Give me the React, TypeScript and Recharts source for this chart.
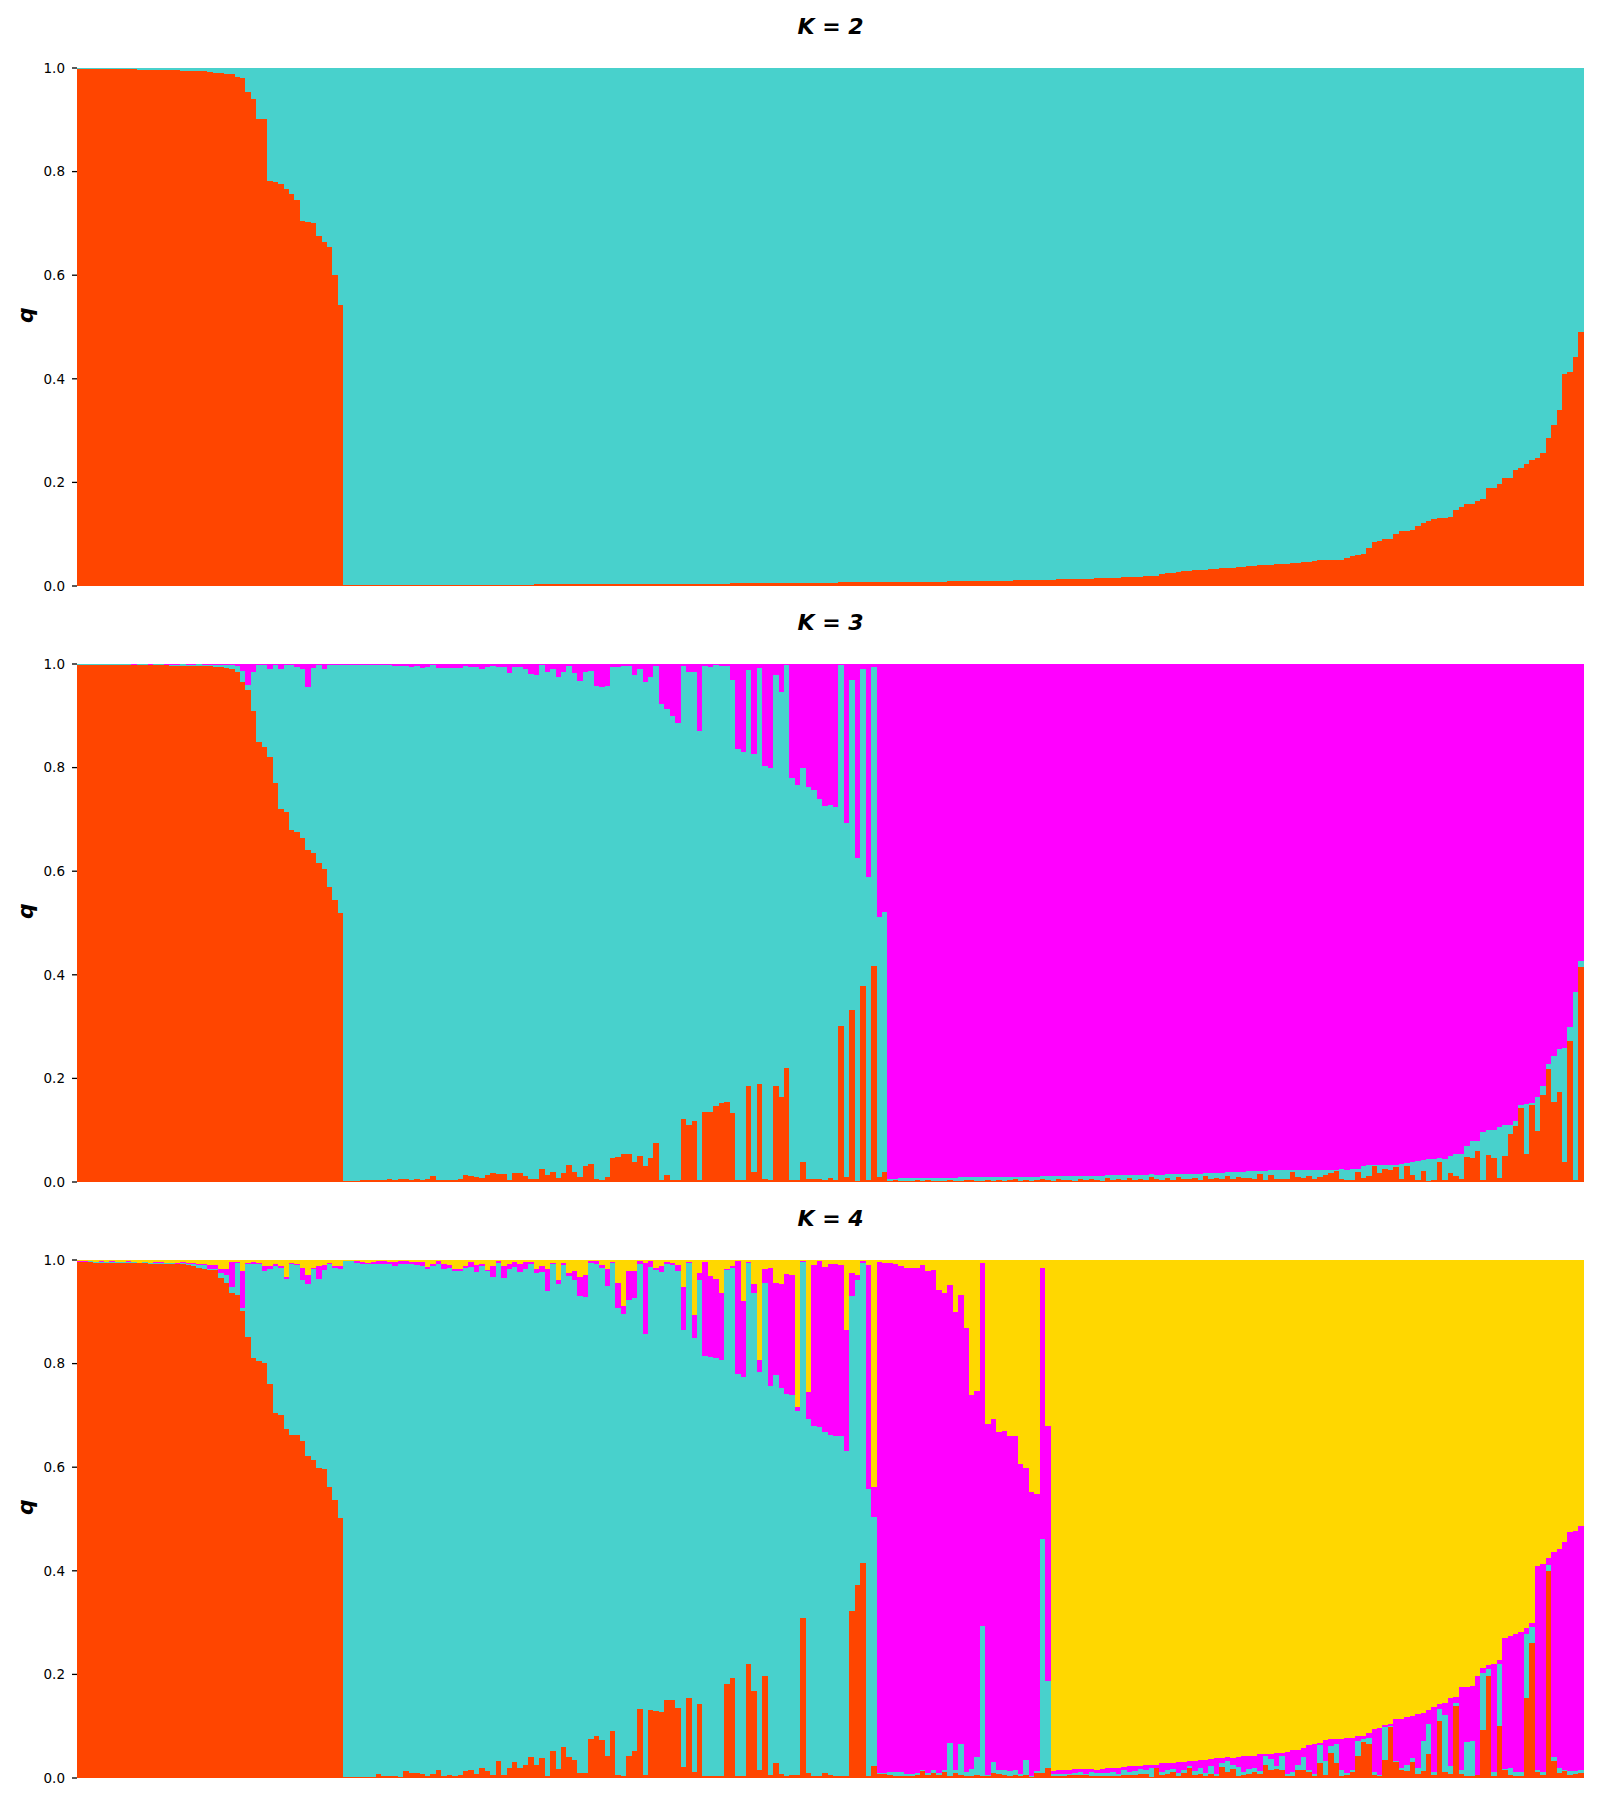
import React from 'react';
import { BarChart, Bar, XAxis, YAxis } from 'recharts';

// Cluster colours (orangered, mediumturquoise, magenta, gold)
const COLORS = ['#FF4500', '#48D1CC', '#FF00FF', '#FFD700'];
const KEYS = ['red', 'teal', 'magenta', 'yellow'];
const Q_TICKS = [0, 0.2, 0.4, 0.6, 0.8, 1.0];
const TITLES = ['K = 2', 'K = 3', 'K = 4'];

// ---------- K = 2 : red membership (teal is the rest) ----------
const k2RedBlock = [
  0.999, 0.999, 0.999, 0.999, 0.999, 0.999, 0.999, 0.999, 0.999, 0.999, 0.999,
  0.997, 0.997, 0.997, 0.997, 0.997, 0.997, 0.997, 0.997,
  0.995, 0.995, 0.995, 0.995, 0.995, 0.993, 0.991, 0.991, 0.989, 0.989,
  0.983, 0.981, 0.953, 0.941, 0.901, 0.901, 0.782, 0.78, 0.776, 0.766, 0.756,
  0.745, 0.705, 0.703, 0.7, 0.676, 0.665, 0.655, 0.6, 0.543,
];
const k2RedMid = [
  0.001, 0.001, 0.001, 0.001, 0.001, 0.001, 0.001, 0.001, 0.001, 0.001,
  0.001, 0.001, 0.001, 0.001, 0.001, 0.002, 0.002, 0.002, 0.002, 0.002,
  0.002, 0.002, 0.002, 0.002, 0.002, 0.002, 0.002, 0.002, 0.002, 0.002,
  0.002, 0.002, 0.002, 0.002, 0.002, 0.003, 0.003, 0.003, 0.003, 0.003,
  0.003, 0.003, 0.003, 0.003, 0.003, 0.003, 0.003, 0.003, 0.003, 0.003,
  0.003, 0.003, 0.003, 0.004, 0.004, 0.004, 0.004, 0.004, 0.004, 0.004,
  0.004, 0.004, 0.004, 0.004, 0.004, 0.004, 0.004, 0.004, 0.004, 0.004,
  0.004, 0.005, 0.005, 0.005, 0.005, 0.005, 0.005, 0.005, 0.005, 0.005,
  0.005, 0.006, 0.006, 0.006, 0.006, 0.006, 0.006, 0.006, 0.006, 0.006,
  0.006, 0.007, 0.007, 0.007, 0.007, 0.007, 0.007, 0.007, 0.007, 0.007,
  0.007, 0.008, 0.008, 0.008, 0.008, 0.008, 0.008, 0.008, 0.008, 0.008,
  0.008, 0.009, 0.009, 0.009, 0.009, 0.009, 0.009, 0.01, 0.01, 0.01,
  0.01, 0.01, 0.01, 0.011, 0.011, 0.011, 0.011, 0.011, 0.012, 0.012,
  0.012, 0.013, 0.013, 0.013, 0.014, 0.014, 0.014, 0.014, 0.015, 0.015,
  0.015, 0.016, 0.016, 0.017, 0.017, 0.018, 0.018, 0.019, 0.02, 0.02,
  0.024, 0.025, 0.026, 0.027, 0.028, 0.029, 0.03, 0.03, 0.031, 0.032,
  0.033, 0.034, 0.035, 0.035, 0.036, 0.037, 0.038, 0.039, 0.04, 0.04,
  0.041, 0.042, 0.042, 0.043, 0.044, 0.044,
];
const k2RedTail = [
  0.046, 0.046, 0.048, 0.05, 0.051, 0.051, 0.051, 0.051, 0.055, 0.057,
  0.059, 0.061, 0.073, 0.084, 0.086, 0.09, 0.09, 0.1, 0.106, 0.107,
  0.109, 0.115, 0.121, 0.125, 0.129, 0.131, 0.131, 0.133, 0.146, 0.152,
  0.158, 0.158, 0.165, 0.167, 0.189, 0.189, 0.196, 0.208, 0.208, 0.223,
  0.227, 0.235, 0.243, 0.248, 0.256, 0.285, 0.31, 0.339, 0.41, 0.414,
  0.443, 0.49,
];

// ---------- K = 3 : red and teal (magenta is the rest) ----------
const k3RedBlockRed = [
  0.999, 0.999, 0.999, 0.999, 0.999, 0.999, 0.999, 0.999, 0.999,
  0.998, 0.998, 0.998, 0.998, 0.998, 0.998, 0.998, 0.998,
  0.997, 0.997, 0.997, 0.997, 0.997, 0.997, 0.997, 0.996, 0.995, 0.994,
  0.992, 0.99, 0.984, 0.966, 0.95, 0.91, 0.85, 0.84, 0.82, 0.77, 0.72,
  0.715, 0.68, 0.675, 0.665, 0.64, 0.635, 0.615, 0.605, 0.57, 0.545, 0.52,
];
const k3RedBlockTeal = [
  0.001, 0.001, 0.001, 0.001, 0.001, 0.001, 0.001, 0.001, 0.001,
  0.002, 0.001, 0.002, 0.002, 0.001, 0.002, 0.002, 0.001,
  0.002, 0.002, 0.003, 0.002, 0.002, 0.003, 0.002, 0.003, 0.004, 0.004,
  0.006, 0.008, 0.012, 0.02, 0.01, 0.075, 0.148, 0.158, 0.17, 0.228, 0.27,
  0.283, 0.318, 0.32, 0.325, 0.315, 0.357, 0.383, 0.385, 0.428, 0.453, 0.478,
];
const k3TealGroupRed = [
  0.001, 0.001, 0.001, 0.003, 0.003, 0.003, 0.003, 0.003, 0.005, 0.003,
  0.005, 0.005, 0.003, 0.005, 0.003, 0.005, 0.011, 0.003, 0.003, 0.003,
  0.003, 0.005, 0.013, 0.011, 0.009, 0.007, 0.013, 0.018, 0.015, 0.015,
  0.003, 0.017, 0.017, 0.011, 0.005, 0.005, 0.025, 0.013, 0.02, 0.007,
  0.018, 0.032, 0.02, 0.009, 0.03, 0.034, 0.005, 0.003, 0.009, 0.046,
  0.048, 0.054, 0.055, 0.038, 0.05, 0.03, 0.046, 0.075, 0.003, 0.013,
  0.003, 0.003, 0.121, 0.11, 0.117, 0.003, 0.135, 0.135, 0.146, 0.152,
  0.154, 0.133, 0.003, 0.003, 0.185, 0.02, 0.189, 0.005, 0.003, 0.185,
  0.164, 0.221, 0.003, 0.003, 0.038, 0.005, 0.005, 0.005, 0.003, 0.007,
  0.003, 0.301, 0.009, 0.333, 0.001, 0.378, 0.003, 0.417, 0.009, 0.02,
];
const k3TealGroupTeal = [
  0.998, 0.997, 0.997, 0.995, 0.995, 0.995, 0.995, 0.995, 0.993, 0.993,
  0.991, 0.991, 0.991, 0.991, 0.989, 0.989, 0.987, 0.989, 0.989, 0.989,
  0.989, 0.987, 0.984, 0.984, 0.985, 0.983, 0.982, 0.979, 0.979, 0.98,
  0.979, 0.978, 0.978, 0.979, 0.975, 0.973, 0.974, 0.971, 0.97, 0.968,
  0.966, 0.965, 0.962, 0.958, 0.954, 0.953, 0.952, 0.952, 0.948, 0.949,
  0.947, 0.943, 0.942, 0.94, 0.94, 0.935, 0.929, 0.922, 0.919, 0.9,
  0.896, 0.883, 0.876, 0.874, 0.867, 0.867, 0.862, 0.86, 0.853, 0.845,
  0.843, 0.836, 0.833, 0.827, 0.803, 0.806, 0.803, 0.798, 0.797, 0.793,
  0.782, 0.778, 0.777, 0.763, 0.761, 0.757, 0.751, 0.734, 0.722, 0.721,
  0.72, 0.698, 0.685, 0.636, 0.625, 0.612, 0.586, 0.578, 0.503, 0.501,
];
const k3MagentaGroupRed = [
  0.002, 0.003, 0.002, 0.001, 0.002, 0.003, 0.002, 0.004, 0.002, 0.001,
  0.002, 0.003, 0.002, 0.002, 0.004, 0.003, 0.002, 0.001, 0.003, 0.002,
  0.004, 0.002, 0.003, 0.005, 0.002, 0.003, 0.002, 0.004, 0.006, 0.003,
  0.002, 0.005, 0.003, 0.004, 0.002, 0.006, 0.003, 0.005, 0.004, 0.002,
  0.007, 0.003, 0.005, 0.004, 0.008, 0.003, 0.006, 0.004, 0.009, 0.005,
  0.003, 0.007, 0.004, 0.01, 0.006, 0.005, 0.008, 0.004, 0.011, 0.006,
  0.007, 0.005, 0.012, 0.006, 0.009, 0.008,
  0.008, 0.005, 0.015, 0.004, 0.013, 0.005, 0.005, 0.005, 0.019, 0.009,
  0.008, 0.011, 0.006, 0.009, 0.013, 0.017, 0.021, 0.005, 0.004, 0.004,
  0.019, 0.008, 0.011, 0.03, 0.017, 0.026, 0.023, 0.028, 0.005, 0.03,
  0.013, 0.004, 0.021, 0.001, 0.003, 0.038, 0.004, 0.017, 0.011, 0.005,
  0.048, 0.046, 0.059, 0.004, 0.053, 0.046, 0.008, 0.05, 0.092, 0.109,
  0.142, 0.055, 0.148, 0.098, 0.167, 0.218, 0.154, 0.173, 0.038, 0.273,
  0.004, 0.416,
];
const k3MagentaGroupTeal = [
  0.004, 0.003, 0.005, 0.006, 0.005, 0.004, 0.006, 0.004, 0.006, 0.007,
  0.006, 0.005, 0.006, 0.007, 0.005, 0.006, 0.007, 0.008, 0.006, 0.007,
  0.006, 0.008, 0.007, 0.005, 0.008, 0.007, 0.008, 0.006, 0.005, 0.008,
  0.009, 0.006, 0.008, 0.007, 0.009, 0.006, 0.009, 0.007, 0.008, 0.01,
  0.006, 0.01, 0.008, 0.009, 0.006, 0.011, 0.008, 0.01, 0.006, 0.009,
  0.011, 0.008, 0.011, 0.006, 0.01, 0.011, 0.008, 0.012, 0.006, 0.011,
  0.011, 0.013, 0.007, 0.013, 0.011, 0.012,
  0.013, 0.016, 0.006, 0.017, 0.01, 0.018, 0.018, 0.018, 0.004, 0.015,
  0.016, 0.012, 0.018, 0.015, 0.011, 0.007, 0.003, 0.021, 0.02, 0.022,
  0.007, 0.022, 0.021, 0.002, 0.015, 0.006, 0.009, 0.004, 0.029, 0.006,
  0.025, 0.036, 0.021, 0.043, 0.041, 0.008, 0.04, 0.033, 0.044, 0.05,
  0.021, 0.033, 0.021, 0.092, 0.047, 0.054, 0.099, 0.061, 0.019, 0.008,
  0.006, 0.095, 0.004, 0.067, 0.018, 0.009, 0.089, 0.083, 0.22, 0.027,
  0.362, 0.01,
];

// ---------- K = 4 : red, teal, magenta (yellow is the rest) ----------
const k4RedBlockRed = [
  0.997, 0.996, 0.996, 0.995, 0.995, 0.995, 0.995, 0.995, 0.995, 0.995,
  0.995, 0.994, 0.994, 0.993, 0.993, 0.993, 0.992, 0.992, 0.992, 0.992,
  0.991, 0.989, 0.985, 0.983, 0.98, 0.98, 0.966, 0.956, 0.937, 0.933,
  0.902, 0.852, 0.811, 0.805, 0.801, 0.761, 0.705, 0.701, 0.673, 0.662,
  0.662, 0.65, 0.622, 0.614, 0.599, 0.597, 0.561, 0.536, 0.501,
];
const k4RedBlockTeal = [
  0.0, 0.001, 0.002, 0.002, 0.002, 0.001, 0.001, 0.001, 0.001, 0.001,
  0.001, 0.001, 0.002, 0.002, 0.002, 0.001, 0.002, 0.002, 0.001, 0.002,
  0.002, 0.004, 0.006, 0.007, 0.003, 0.003, 0.008, 0.016, 0.011, 0.062,
  0.006, 0.141, 0.182, 0.188, 0.178, 0.222, 0.284, 0.284, 0.291, 0.331,
  0.328, 0.312, 0.332, 0.368, 0.365, 0.383, 0.432, 0.449, 0.481,
];
const k4RedBlockMagenta = [
  0.001, 0.001, 0.0, 0.0, 0.001, 0.001, 0.002, 0.001, 0.001, 0.002,
  0.001, 0.0, 0.001, 0.0, 0.001, 0.002, 0.0, 0.001, 0.002, 0.002,
  0.002, 0.002, 0.002, 0.002, 0.007, 0.008, 0.008, 0.01, 0.048, 0.002,
  0.07, 0.002, 0.003, 0.002, 0.009, 0.006, 0.004, 0.004, 0.004, 0.002,
  0.003, 0.023, 0.018, 0.003, 0.025, 0.011, 0.002, 0.004, 0.006,
];
const k4TealGroupRed = [
  0.001, 0.001, 0.001, 0.002, 0.002, 0.002, 0.007, 0.004, 0.004, 0.004,
  0.002, 0.013, 0.009, 0.009, 0.007, 0.003, 0.007, 0.015, 0.004, 0.005,
  0.003, 0.005, 0.013, 0.016, 0.007, 0.02, 0.013, 0.005, 0.032, 0.005,
  0.02, 0.03, 0.02, 0.026, 0.04, 0.026, 0.038, 0.003, 0.053, 0.018,
  0.059, 0.04, 0.034, 0.009, 0.009, 0.076, 0.082, 0.074, 0.042, 0.09,
  0.005, 0.003, 0.042, 0.053, 0.134, 0.005, 0.132, 0.13, 0.128, 0.15,
  0.15, 0.136, 0.022, 0.154, 0.011, 0.142, 0.003, 0.003, 0.003, 0.003,
  0.181, 0.194, 0.003, 0.003, 0.221, 0.167, 0.016, 0.196, 0.005, 0.028,
  0.007, 0.003, 0.005, 0.005, 0.308, 0.009, 0.003, 0.003, 0.009, 0.005,
  0.003, 0.003, 0.003, 0.322, 0.372, 0.416, 0.003, 0.024,
];
const k4TealGroupTeal = [
  0.997, 0.997, 0.994, 0.991, 0.991, 0.99, 0.986, 0.988, 0.988, 0.985,
  0.991, 0.98, 0.983, 0.982, 0.982, 0.98, 0.981, 0.978, 0.979, 0.979,
  0.975, 0.973, 0.971, 0.971, 0.969, 0.968, 0.965, 0.963, 0.963, 0.961,
  0.962, 0.957, 0.956, 0.956, 0.952, 0.948, 0.938, 0.938, 0.94, 0.936,
  0.932, 0.93, 0.928, 0.922, 0.92, 0.919, 0.911, 0.91, 0.907, 0.905,
  0.903, 0.893, 0.881, 0.874, 0.859, 0.853, 0.854, 0.85, 0.848, 0.843,
  0.841, 0.842, 0.842, 0.841, 0.839, 0.82, 0.812, 0.809, 0.807, 0.803,
  0.799, 0.79, 0.777, 0.771, 0.774, 0.77, 0.768, 0.76, 0.752, 0.75,
  0.746, 0.739, 0.735, 0.704, 0.688, 0.684, 0.677, 0.675, 0.659, 0.657,
  0.657, 0.657, 0.628, 0.609, 0.59, 0.579, 0.554, 0.479,
];
const k4TealGroupMagenta = [
  0.001, 0.001, 0.004, 0.004, 0.002, 0.004, 0.005, 0.006, 0.005, 0.007,
  0.005, 0.006, 0.004, 0.006, 0.008, 0.004, 0.005, 0.005, 0.01, 0.006,
  0.005, 0.005, 0.004, 0.009, 0.015, 0.005, 0.003, 0.021, 0.003, 0.023,
  0.011, 0.009, 0.016, 0.014, 0.004, 0.009, 0.013, 0.042, 0.002, 0.008,
  0.004, 0.004, 0.017, 0.036, 0.042, 0.003, 0.005, 0.007, 0.033, 0.001,
  0.047, 0.015, 0.056, 0.052, 0.005, 0.137, 0.012, 0.005, 0.013, 0.003,
  0.004, 0.013, 0.083, 0.002, 0.044, 0.012, 0.182, 0.157, 0.154, 0.131,
  0.003, 0.005, 0.218, 0.146, 0.002, 0.016, 0.023, 0.027, 0.228, 0.178,
  0.201, 0.231, 0.231, 0.007, 0.002, 0.052, 0.311, 0.32, 0.319, 0.331,
  0.333, 0.331, 0.234, 0.044, 0.009, 0.003, 0.434, 0.058,
];
const k4MagentaGroupRed = [
  0.007, 0.007, 0.005, 0.003, 0.003, 0.003, 0.003, 0.005, 0.013, 0.005,
  0.009, 0.005, 0.011, 0.003, 0.009, 0.005, 0.003, 0.003, 0.005, 0.003,
  0.003, 0.009, 0.007, 0.005, 0.003, 0.005, 0.003, 0.005, 0.001, 0.009,
  0.009, 0.02,
];
const k4MagentaGroupTeal = [
  0.002, 0.002, 0.006, 0.008, 0.008, 0.004, 0.004, 0.004, 0.003, 0.004,
  0.006, 0.004, 0.004, 0.064, 0.007, 0.06, 0.008, 0.015, 0.035, 0.291,
  0.002, 0.021, 0.008, 0.011, 0.01, 0.01, 0.004, 0.029, 0.002, 0.004,
  0.452, 0.168,
];
const k4MagentaGroupMagenta = [
  0.988, 0.986, 0.984, 0.982, 0.978, 0.978, 0.977, 0.975, 0.975, 0.969,
  0.965, 0.934, 0.922, 0.885, 0.884, 0.868, 0.858, 0.722, 0.707, 0.701,
  0.679, 0.663, 0.653, 0.654, 0.647, 0.645, 0.599, 0.564, 0.549, 0.535,
  0.523, 0.492,
];
const k4YellowGroupRed = [
  0.003, 0.003, 0.003, 0.005, 0.005, 0.005, 0.005, 0.003, 0.003, 0.003,
  0.003, 0.003, 0.003, 0.005, 0.005, 0.005, 0.007, 0.007, 0.001, 0.02,
  0.005, 0.007, 0.011, 0.003, 0.009, 0.02, 0.005, 0.007, 0.003, 0.007,
  0.003, 0.022, 0.011, 0.018, 0.003, 0.005, 0.007, 0.011, 0.007, 0.026,
  0.016, 0.018, 0.016, 0.003, 0.003, 0.016, 0.016, 0.011, 0.003, 0.028,
  0.005, 0.049, 0.028, 0.003, 0.005, 0.011, 0.042, 0.069, 0.065, 0.005,
  0.003, 0.034, 0.098, 0.03, 0.016, 0.013, 0.03, 0.007, 0.013, 0.046,
  0.005, 0.111, 0.011, 0.007, 0.139, 0.007, 0.003, 0.003, 0.005, 0.092,
  0.196, 0.003, 0.1, 0.015, 0.005, 0.003, 0.003, 0.155, 0.26, 0.011,
  0.005, 0.4, 0.032, 0.009, 0.013, 0.005, 0.007, 0.009,
];
const k4YellowGroupTeal = [
  0.004, 0.004, 0.004, 0.002, 0.004, 0.006, 0.002, 0.008, 0.006, 0.006,
  0.006, 0.008, 0.004, 0.01, 0.006, 0.008, 0.011, 0.008, 0.019, 0.0,
  0.006, 0.009, 0.007, 0.006, 0.007, 0.004, 0.008, 0.013, 0.006, 0.017,
  0.004, 0.006, 0.021, 0.008, 0.019, 0.006, 0.011, 0.009, 0.006, 0.016,
  0.02, 0.006, 0.026, 0.004, 0.008, 0.01, 0.024, 0.005, 0.004, 0.035,
  0.027, 0.012, 0.037, 0.012, 0.004, 0.004, 0.029, 0.006, 0.013, 0.006,
  0.002, 0.064, 0.002, 0.002, 0.004, 0.013, 0.008, 0.013, 0.058, 0.059,
  0.006, 0.023, 0.11, 0.017, 0.005, 0.009, 0.066, 0.068, 0.0, 0.111,
  0.015, 0.008, 0.12, 0.003, 0.015, 0.008, 0.008, 0.123, 0.031, 0.005,
  0.006, 0.011, 0.008, 0.011, 0.003, 0.008, 0.006, 0.007,
];
const k4YellowGroupMagenta = [
  0.006, 0.008, 0.008, 0.009, 0.009, 0.007, 0.011, 0.007, 0.007, 0.009,
  0.011, 0.009, 0.013, 0.007, 0.013, 0.011, 0.006, 0.011, 0.006, 0.006,
  0.017, 0.012, 0.01, 0.021, 0.014, 0.008, 0.019, 0.014, 0.025, 0.012,
  0.031, 0.01, 0.008, 0.012, 0.018, 0.031, 0.024, 0.022, 0.033, 0.005,
  0.011, 0.025, 0.007, 0.044, 0.044, 0.029, 0.017, 0.047, 0.058, 0.004,
  0.041, 0.014, 0.01, 0.06, 0.068, 0.063, 0.011, 0.007, 0.008, 0.083,
  0.091, 0.004, 0.005, 0.081, 0.093, 0.091, 0.081, 0.103, 0.054, 0.027,
  0.126, 0.008, 0.023, 0.13, 0.012, 0.159, 0.106, 0.106, 0.191, 0.01,
  0.007, 0.209, 0.008, 0.252, 0.254, 0.267, 0.271, 0.012, 0.008, 0.393,
  0.402, 0.014, 0.396, 0.422, 0.44, 0.461, 0.463, 0.471,
];

type Row = { id: number; [key: string]: number };

const rest = (...parts: number[]) => Math.max(0, 1 - parts.reduce((a, b) => a + b, 0));

// K = 2 table
const k2Red = [...k2RedBlock, ...k2RedMid, ...k2RedTail];
const k2Rows: Row[] = k2Red.map((r, i) => ({ id: i, red: r, teal: rest(r) }));

// K = 3 table
const k3Red = [...k3RedBlockRed, ...k3TealGroupRed, ...k3MagentaGroupRed];
const k3Teal = [...k3RedBlockTeal, ...k3TealGroupTeal, ...k3MagentaGroupTeal];
const k3Rows: Row[] = k3Red.map((r, i) => ({
  id: i, red: r, teal: k3Teal[i], magenta: rest(r, k3Teal[i]),
}));

// K = 4 table
const k4Red = [...k4RedBlockRed, ...k4TealGroupRed, ...k4MagentaGroupRed, ...k4YellowGroupRed];
const k4Teal = [...k4RedBlockTeal, ...k4TealGroupTeal, ...k4MagentaGroupTeal, ...k4YellowGroupTeal];
const k4Magenta = [...k4RedBlockMagenta, ...k4TealGroupMagenta, ...k4MagentaGroupMagenta, ...k4YellowGroupMagenta];
const k4Rows: Row[] = k4Red.map((r, i) => ({
  id: i, red: r, teal: k4Teal[i], magenta: k4Magenta[i], yellow: rest(r, k4Teal[i], k4Magenta[i]),
}));

const PANEL_TOPS = [0, 596, 1192];
const PLOT_W = 1600 - 77 - 16;
const FONT = '"DejaVu Sans", Verdana, sans-serif';

// Recharts truncates the bar width to whole pixels, which leaves hairline
// gaps; widen each rect back to the full band so the bars touch.
const makeBarShape = (n: number) => (props: any) => {
  const { x, y, width, height, fill } = props;
  if (!height || height <= 0) return <g />;
  const band = PLOT_W / n;
  const cx = x + width / 2;
  return <rect x={cx - band / 2} y={y} width={band} height={height} fill={fill} shapeRendering="crispEdges" />;
};

interface PanelProps {
  rows: Row[];
  k: number;
  top: number;
}

const Panel: React.FC<PanelProps> = ({ rows, k, top }) => {
  const shape = makeBarShape(rows.length);
  return (
    <div style={{ position: 'absolute', left: 0, top, width: 1600, height: 597 }}>
      <BarChart
        width={1600}
        height={597}
        data={rows}
        margin={{ top: 68, right: 16, bottom: 11, left: 0 }}
        barCategoryGap={0}
        barGap={0}
      >
        <XAxis dataKey="id" type="category" hide />
        <YAxis
          type="number"
          domain={[0, 1]}
          ticks={Q_TICKS}
          allowDataOverflow
          width={77}
          axisLine={false}
          tickSize={5}
          tickMargin={7}
          tickLine={{ stroke: '#000', strokeWidth: 1.3 }}
          tick={{ fill: '#000', fontSize: 13.5, fontFamily: FONT }}
          tickFormatter={(v: number) => v.toFixed(1)}
        />
        {KEYS.slice(0, k).map((key, j) => (
          <Bar key={key} dataKey={key} stackId="q" fill={COLORS[j]} shape={shape} isAnimationActive={false} />
        ))}
      </BarChart>
    </div>
  );
};

export default function App() {
  const tables = [k2Rows, k3Rows, k4Rows];
  return (
    <div style={{ position: 'absolute', left: 0, top: 0, width: 1600, height: 1800, background: '#fff' }}>
      {tables.map((rows, i) => (
        <Panel key={i} rows={rows} k={i + 2} top={PANEL_TOPS[i]} />
      ))}
      <svg width={1600} height={1800} style={{ position: 'absolute', left: 0, top: 0, pointerEvents: 'none' }}>
        {TITLES.map((t, i) => {
          const off = PANEL_TOPS[i];
          return (
            <g key={t}>
              <text x={830.5} y={34 + off} textAnchor="middle" fontFamily={FONT} fontWeight="bold" fontStyle="italic" fontSize={22} fill="#000">
                {t}
              </text>
              <text
                x={33}
                y={315 + off}
                textAnchor="middle"
                fontFamily={FONT}
                fontWeight="bold"
                fontStyle="italic"
                fontSize={22}
                fill="#000"
                transform={`rotate(-90, 33, ${315 + off})`}
              >
                q
              </text>
            </g>
          );
        })}
      </svg>
    </div>
  );
}
